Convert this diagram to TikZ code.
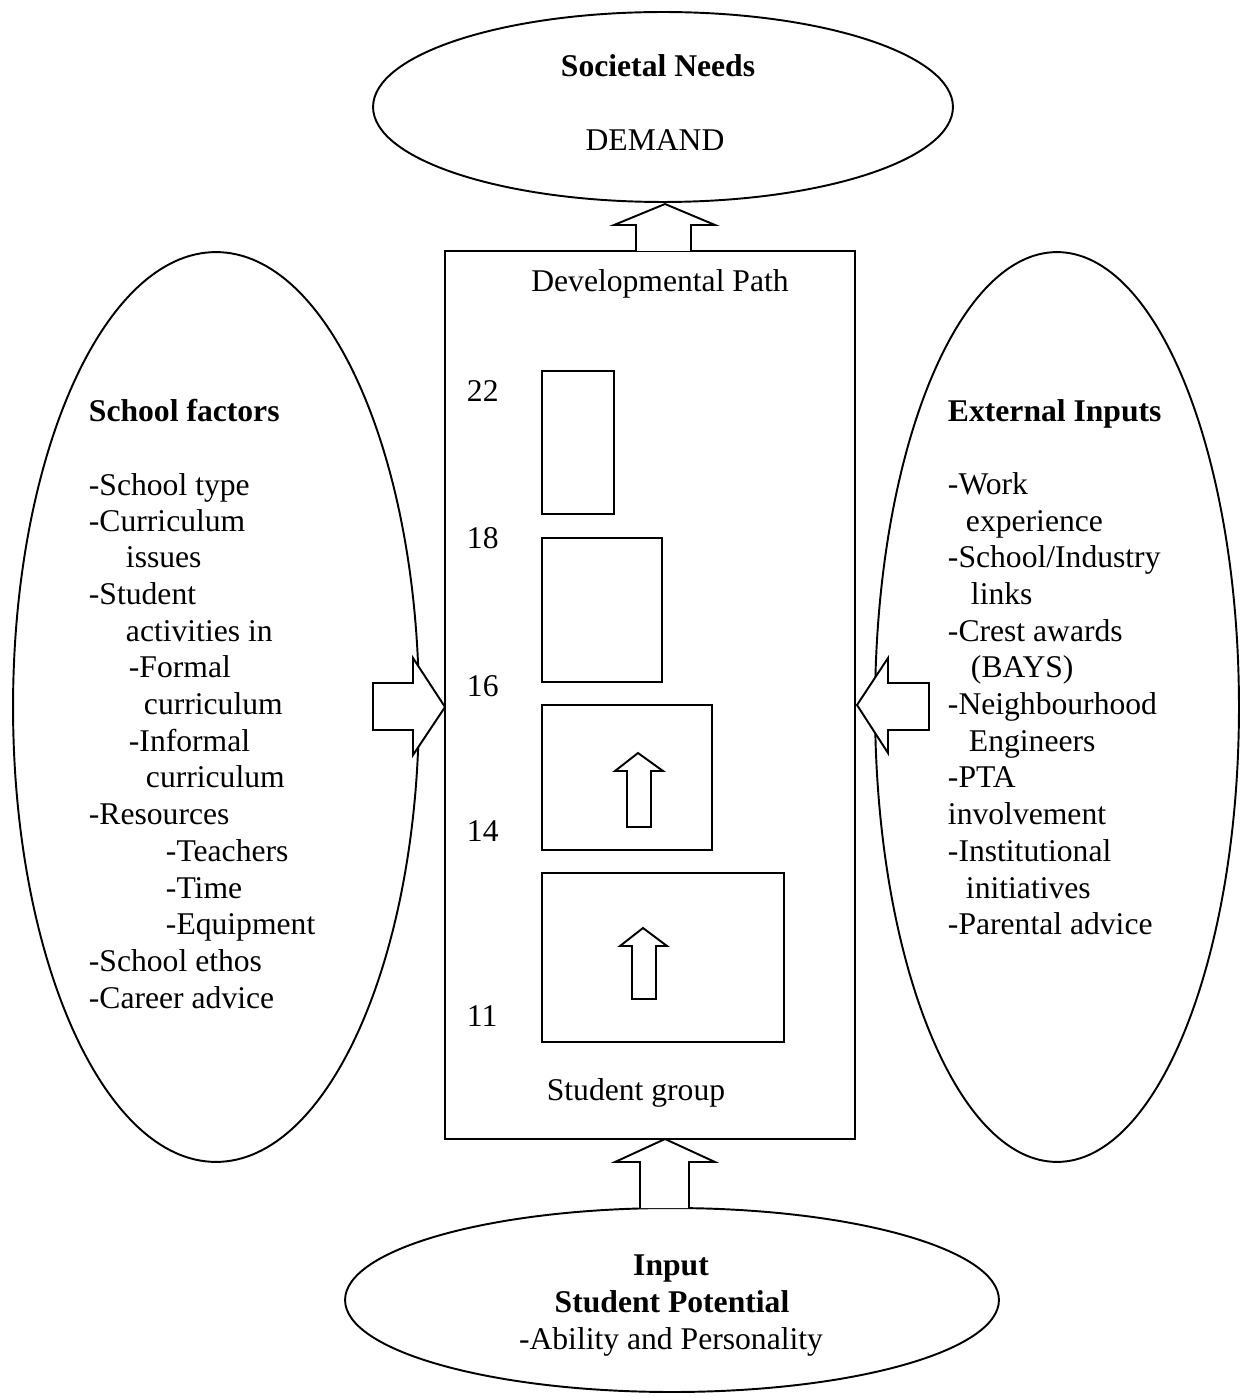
\documentclass[tikz,border=0pt]{standalone}
\usepackage{fontspec}
\setmainfont{Liberation Serif}
\usetikzlibrary{shapes.geometric}
\begin{document}
\begin{tikzpicture}[x=0.02cm,y=-0.02cm, line width=1.1pt,
  txt/.style={anchor=base west, inner sep=0, font=\fontsize{18}{21}\selectfont},
  ctxt/.style={anchor=base, inner sep=0, font=\fontsize{18}{21}\selectfont},
  btxt/.style={anchor=base west, inner sep=0, font=\fontsize{18}{21}\selectfont\bfseries},
  bctxt/.style={anchor=base, inner sep=0, font=\fontsize{18}{21}\selectfont\bfseries},
  oval/.style={draw, ellipse, inner sep=0},
  blockarrow/.style={draw, fill=white, line join=miter},
  stagebox/.style={draw}]
\useasboundingbox (0,0) rectangle (1246,1398);

% surrounding ovals
\node[oval, minimum width=11.6cm, minimum height=3.8cm] (needs) at (663,107) {};
\node[oval, minimum width=8.12cm, minimum height=18.2cm] (school) at (216,707) {};
\node[oval, minimum width=7.28cm, minimum height=18.2cm] (external) at (1057,707) {};
\node[oval, minimum width=13.08cm, minimum height=3.68cm] (input) at (672,1300) {};

% developmental path frame and stage boxes
\draw[stagebox] (445,251) rectangle (855,1139);
\draw[stagebox] (542,371) rectangle (614,514);
\draw[stagebox] (542,538) rectangle (662,682);
\draw[stagebox] (542,705) rectangle (712,850);
\draw[stagebox] (542,873) rectangle (784,1042);

% block arrows
\filldraw[blockarrow] (636,251) -- (636,225) -- (614,225) -- (665,204) -- (715,225) -- (691,225) -- (691,251);
\filldraw[blockarrow] (640,1208) -- (640,1162) -- (615,1162) -- (665,1139) -- (715,1162) -- (689,1162) -- (689,1208);
\filldraw[blockarrow] (413,658) -- (445,707) -- (413,755) -- (413,730) -- (373,730) -- (373,683) -- (413,683) -- cycle;
\filldraw[blockarrow] (888,658) -- (857,705) -- (888,753) -- (888,730) -- (929,730) -- (929,683) -- (888,683) -- cycle;
\filldraw[blockarrow] (638,753) -- (663,771) -- (651,771) -- (651,827) -- (627,827) -- (627,771) -- (615,771) -- cycle;
\filldraw[blockarrow] (643,928) -- (667,946) -- (656,946) -- (656,999) -- (632,999) -- (632,946) -- (620,946) -- cycle;

% top oval text
\node[bctxt] (t1) at (658,77) {Societal Needs};
\node[ctxt] (t2) at (655,151) {DEMAND};

% frame text
\node[ctxt] (dp) at (660,292) {Developmental Path};
\node[ctxt] (sg) at (636,1100) {Student group};
\node[txt] (a22) at (466,401) {22};
\node[txt] (a18) at (466,548) {18};
\node[txt] (a16) at (466,696) {16};
\node[txt] (a14) at (466,841) {14};
\node[txt] (a11) at (466,1026) {11};

% school factors
\node[btxt] (s0) at (88,421) {School factors};
\node[txt] (s1) at (88,495) {-School type};
\node[txt] (s2) at (88,531) {-Curriculum};
\node[txt] (s3) at (125,567) {issues};
\node[txt] (s4) at (88,604) {-Student};
\node[txt] (s5) at (125,641) {activities in};
\node[txt] (s6) at (128,677) {-Formal};
\node[txt] (s7) at (143,714) {curriculum};
\node[txt] (s8) at (128,751) {-Informal};
\node[txt] (s9) at (145,787) {curriculum};
\node[txt] (s10) at (88,824) {-Resources};
\node[txt] (s11) at (165,861) {-Teachers};
\node[txt] (s12) at (165,898) {-Time};
\node[txt] (s13) at (165,934) {-Equipment};
\node[txt] (s14) at (88,971) {-School ethos};
\node[txt] (s15) at (88,1008) {-Career advice};

% external inputs
\node[btxt] (e0) at (947,421) {External Inputs};
\node[txt] (e1) at (947,494) {-Work};
\node[txt] (e2) at (965,531) {experience};
\node[txt] (e3) at (947,567) {-School/Industry};
\node[txt] (e4) at (970,604) {links};
\node[txt] (e5) at (947,641) {-Crest awards};
\node[txt] (e6) at (970,677) {(BAYS)};
\node[txt] (e7) at (947,714) {-Neighbourhood};
\node[txt] (e8) at (968,751) {Engineers};
\node[txt] (e9) at (947,787) {-PTA};
\node[txt] (e10) at (947,824) {involvement};
\node[txt] (e11) at (947,861) {-Institutional};
\node[txt] (e12) at (965,898) {initiatives};
\node[txt] (e13) at (947,934) {-Parental advice};

% input oval text
\node[bctxt] (i1) at (671,1275) {Input};
\node[bctxt] (i2) at (672,1312) {Student Potential};
\node[ctxt] (i3) at (671,1349) {-Ability and Personality};
\end{tikzpicture}
\end{document}
